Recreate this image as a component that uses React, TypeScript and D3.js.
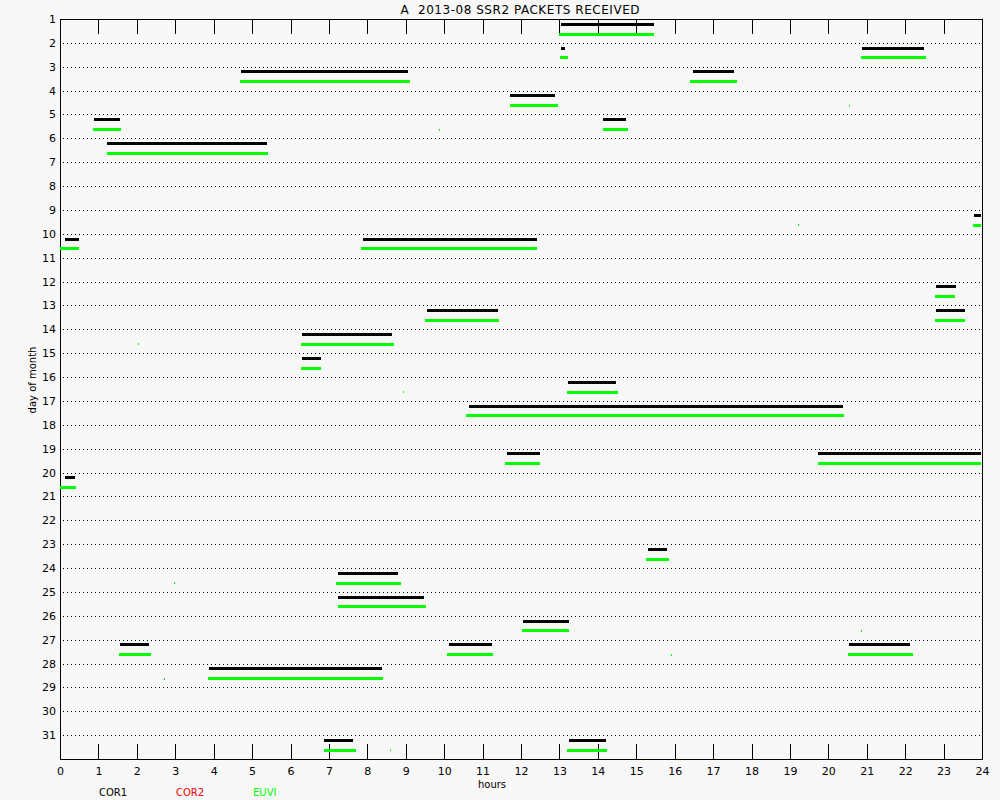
import React from "react";
import * as d3 from "d3";

// Telemetry coverage for August 2013, SSR2 partition (spacecraft A).
// Each segment: [day of month, start hour, end hour]
const cor1Segments: [number, number, number][] = [
  [1, 13.04, 15.46],
  [2, 13.04, 13.14],
  [2, 20.87, 22.49],
  [3, 4.71, 9.06],
  [3, 16.48, 17.55],
  [4, 11.71, 12.88],
  [5, 0.885, 1.56],
  [5, 14.13, 14.73],
  [6, 1.22, 5.39],
  [9, 23.79, 23.98],
  [10, 0.13, 0.49],
  [10, 7.89, 12.42],
  [12, 22.8, 23.32],
  [13, 9.55, 11.4],
  [13, 22.8, 23.56],
  [14, 6.3, 8.64],
  [15, 6.3, 6.79],
  [16, 13.22, 14.47],
  [17, 10.65, 20.38],
  [19, 11.63, 12.49],
  [19, 19.73, 23.98],
  [20, 0.13, 0.39],
  [23, 15.3, 15.8],
  [24, 7.24, 8.8],
  [25, 7.24, 9.47],
  [26, 12.05, 13.25],
  [27, 1.56, 2.32],
  [27, 10.13, 11.24],
  [27, 20.54, 22.12],
  [28, 3.88, 8.38],
  [31, 6.87, 7.63],
  [31, 13.25, 14.21],
];

const cor2Segments: [number, number, number][] = [];

const euviSegments: [number, number, number][] = [
  [1, 13.0, 15.46],
  [2, 13.01, 13.22],
  [2, 20.85, 22.54],
  [3, 4.69, 9.11],
  [3, 16.4, 17.62],
  [4, 11.71, 12.96],
  [5, 0.86, 1.59],
  [5, 14.13, 14.78],
  [6, 1.22, 5.41],
  [9, 23.76, 23.98],
  [10, 0.0, 0.49],
  [10, 7.83, 12.42],
  [12, 22.77, 23.3],
  [13, 9.5, 11.43],
  [13, 22.77, 23.56],
  [14, 6.27, 8.7],
  [15, 6.27, 6.79],
  [16, 13.2, 14.52],
  [17, 10.57, 20.41],
  [19, 11.58, 12.49],
  [19, 19.73, 23.98],
  [20, 0.0, 0.42],
  [23, 15.25, 15.85],
  [24, 7.18, 8.88],
  [25, 7.24, 9.53],
  [26, 12.02, 13.25],
  [27, 1.54, 2.37],
  [27, 10.07, 11.27],
  [27, 20.51, 22.2],
  [28, 3.85, 8.41],
  [31, 6.87, 7.7],
  [31, 13.2, 14.24],
];

// Isolated single EUVI packets: [day of month, hour]
const euviSingles: [number, number][] = [
  [5, 9.86],
  [4, 20.54],
  [9, 19.21],
  [14, 2.03],
  [16, 8.93],
  [24, 2.97],
  [26, 20.85],
  [27, 15.9],
  [28, 2.71],
  [31, 8.59],
];

const hourTicks = d3.range(0, 25);
const dayTicks = d3.range(1, 32);
const legendItems = [
  { label: "COR1", color: "#000000" },
  { label: "COR2", color: "#ff0000" },
  { label: "EUVI", color: "#00ff00" },
];
const titleText = "A  2013-08 SSR2 PACKETS RECEIVED";

const W = 1000;
const H = 800;
const FONT = "'DejaVu Sans', sans-serif";

export default function App() {
  const x = d3.scaleLinear().domain([0, 24]).range([60, 982]);
  const y = d3.scaleLinear().domain([1, 32]).range([19, 759]);

  const rowOffset = { cor1: 0.22, cor2: 0.42, euvi: 0.63 };
  const barH = 3;

  const bars = (
    segs: [number, number, number][],
    off: number,
    color: string,
    key: string
  ) =>
    segs.map(([d, s, e], i) => (
      <rect
        key={`${key}-${i}`}
        x={Math.round(x(s))}
        y={Math.round(y(d + off) - barH / 2)}
        width={Math.max(1, Math.round(x(e)) - Math.round(x(s)))}
        height={barH}
        fill={color}
      />
    ));

  return (
    <svg
      width={W}
      height={H}
      style={{ position: "fixed", left: 0, top: 0, background: "#f8f8f8" }}
      shapeRendering="crispEdges"
    >
      <rect x={0} y={0} width={W} height={H} fill="#f8f8f8" />

      <text
        x={520}
        y={14}
        textAnchor="middle"
        fontFamily={FONT}
        fontSize={12}
        textLength={239}
        fill="#000"
        style={{ whiteSpace: "pre" }}
      >
        {titleText}
      </text>

      {/* dotted day grid */}
      {dayTicks.slice(1).map((d) => (
        <line
          key={`g${d}`}
          x1={63}
          x2={980}
          y1={Math.round(y(d)) + 0.5}
          y2={Math.round(y(d)) + 0.5}
          stroke="#000"
          strokeWidth={1}
          strokeDasharray="1,3"
        />
      ))}

      {/* hour ticks, top and bottom */}
      {hourTicks.slice(1, -1).map((h) => (
        <g key={`t${h}`}>
          <line
            x1={Math.round(x(h)) + 0.5}
            x2={Math.round(x(h)) + 0.5}
            y1={19}
            y2={34}
            stroke="#000"
          />
          <line
            x1={Math.round(x(h)) + 0.5}
            x2={Math.round(x(h)) + 0.5}
            y1={744}
            y2={759}
            stroke="#000"
          />
        </g>
      ))}

      {/* frame */}
      <rect
        x={60.5}
        y={19.5}
        width={x(24) - x(0)}
        height={y(32) - y(1)}
        fill="none"
        stroke="#000"
        strokeWidth={1}
      />

      {/* day labels */}
      {dayTicks.map((d) => (
        <text
          key={`dl${d}`}
          x={56}
          y={y(d) + 4}
          textAnchor="end"
          fontFamily={FONT}
          fontSize={11}
          fill="#000"
        >
          {d}
        </text>
      ))}

      {/* hour labels */}
      {hourTicks.map((h) => (
        <text
          key={`hl${h}`}
          x={x(h) + 0.5}
          y={775}
          textAnchor="middle"
          fontFamily={FONT}
          fontSize={11}
          fill="#000"
        >
          {h}
        </text>
      ))}

      <text
        x={492}
        y={788}
        textAnchor="middle"
        fontFamily={FONT}
        fontSize={10}
        fill="#000"
      >
        hours
      </text>
      <text
        transform={`translate(36,380) rotate(-90)`}
        textAnchor="middle"
        fontFamily={FONT}
        fontSize={10}
        fill="#000"
      >
        day of month
      </text>

      {bars(cor1Segments, rowOffset.cor1, "#000000", "c1")}
      {bars(cor2Segments, rowOffset.cor2, "#ff0000", "c2")}
      {bars(euviSegments, rowOffset.euvi, "#00ff00", "eu")}

      {euviSingles.map(([d, h], i) => (
        <rect
          key={`s${i}`}
          x={Math.round(x(h))}
          y={Math.round(y(d + rowOffset.euvi) - 1)}
          width={1}
          height={2}
          fill="#00ff00"
        />
      ))}

      {/* legend */}
      {legendItems.map((it, i) => (
        <text
          key={it.label}
          x={99 + i * 77}
          y={796}
          fontFamily={FONT}
          fontSize={10}
          fill={it.color}
        >
          {it.label}
        </text>
      ))}
    </svg>
  );
}
